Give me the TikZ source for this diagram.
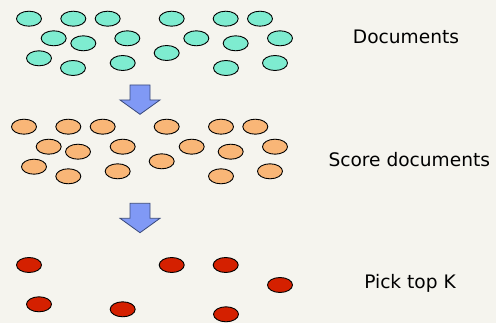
\documentclass[tikz,border=0pt]{standalone}
\usepackage{fontspec}
\setmainfont{DejaVu Sans}
\usetikzlibrary{shapes.geometric}
\definecolor{bgc}{HTML}{F5F4EE}
\definecolor{docg}{HTML}{7EECD0}
\definecolor{doco}{HTML}{F9B677}
\definecolor{docr}{HTML}{D42000}
\definecolor{arrb}{HTML}{8099F5}
\definecolor{arrd}{HTML}{3A4A7A}
\tikzset{
  docbase/.style={ellipse, draw=black, line width=0.9pt, minimum width=25pt, minimum height=15pt, inner sep=0pt},
  gdoc/.style={docbase, fill=docg},
  odoc/.style={docbase, fill=doco},
  rdoc/.style={docbase, fill=docr},
  blockarrow/.style={fill=arrb, draw=arrd, line width=0.8pt, line join=miter},
  lbl/.style={font=\fontsize{18.6}{20}\selectfont, inner sep=0pt}
}
\begin{document}
\begin{tikzpicture}[x=1pt,y=-1pt]
\fill[bgc] (0,0) rectangle (496,323);
\useasboundingbox (0,0) rectangle (496,323);
% green documents
\foreach \n/\px/\py in {1/29/18.7, 2/73.3/18.7, 3/107.7/18.7, 4/171.7/18.7, 5/225.7/18.7, 6/260/18.7,
  7/53.7/38.3, 8/83.3/43.3, 9/127.3/38.3, 10/196.3/38.3, 11/235.7/43.3, 12/280/38.3,
  13/39/58.3, 14/73/68, 15/122.7/63, 16/166.7/53, 17/226/68, 18/275/63}
  \node[gdoc] (g\n) at (\px,\py) {};
% orange documents
\foreach \n/\px/\py in {1/24/126.7, 2/68.3/126.7, 3/102.7/126.7, 4/166.7/126.7, 5/221/126.7, 6/255.3/126.7,
  7/48.7/146.7, 8/78/151.7, 9/122.7/146.7, 10/191.7/146.7, 11/230.7/151.7, 12/275/146.7,
  13/34/166.7, 14/68.3/176.3, 15/117.7/171.3, 16/161.7/161.3, 17/221/176.3, 18/270/171.3}
  \node[odoc] (o\n) at (\px,\py) {};
% red documents
\foreach \n/\px/\py in {1/29/265, 2/171.7/265, 3/225.7/265, 4/280/285, 5/39/304.3, 6/122.7/309.3, 7/226/314.3}
  \node[rdoc] (r\n) at (\px,\py) {};
% block arrows
\draw[blockarrow] (130,85) -- (150,85) -- (150,100) -- (160,100) -- (140,114.3) -- (120,100) -- (130,100) -- cycle;
\draw[blockarrow] (130,203.3) -- (150,203.3) -- (150,218.3) -- (160,218.3) -- (140,232.7) -- (120,218.3) -- (130,218.3) -- cycle;
% labels
\node[lbl] (t1) at (406,37.3) {Documents};
\node[lbl] (t2) at (409.3,160) {Score documents};
\node[lbl] (t3) at (410,283.3) {Pick top K};
\end{tikzpicture}
\end{document}
